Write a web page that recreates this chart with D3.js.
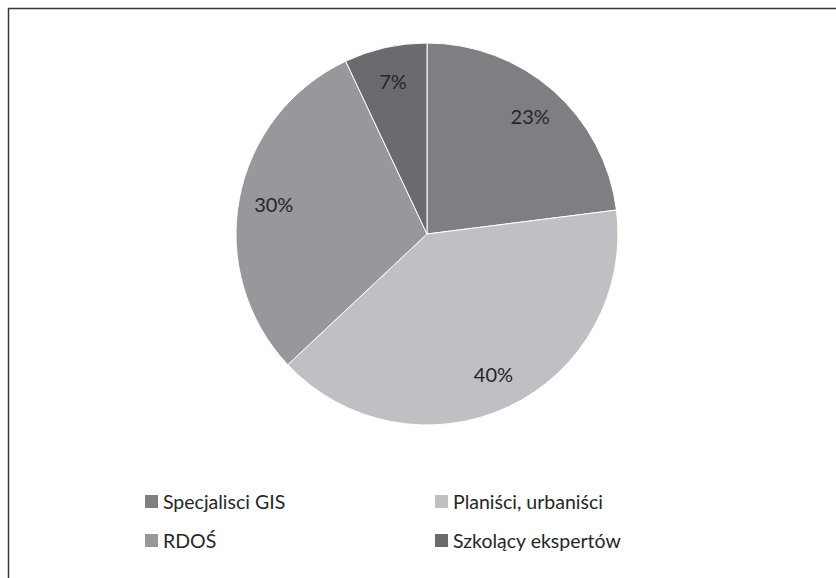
<!DOCTYPE html>
<html><head><meta charset="utf-8">
<script src="https://cdn.jsdelivr.net/npm/d3@7"></script>
<style>body{margin:0;background:#fff}svg{display:block}</style>
</head><body>
<script>
const categories = ["Specjalisci GIS", "Planiści, urbaniści", "RDOŚ", "Szkolący ekspertów"];
const values = [23, 40, 30, 7];
const labels = ["23%", "40%", "30%", "7%"];
const colors = ["#7e7f83", "#c0c0c4", "#98989c", "#6b6b6f"];

const W = 836, H = 578;
const svg = d3.select("body").append("svg").attr("width", W).attr("height", H);
const font = "Lato, 'Open Sans', sans-serif";

svg.append("rect").attr("x", 8.5).attr("y", 8.5).attr("width", W).attr("height", H)
  .attr("fill", "#fff").attr("stroke", "#3a3a3a").attr("stroke-width", 1.5);

const cx = 427, cy = 234, r = 191;
const pie = d3.pie().sort(null).value(d => d)(values);
const arc = d3.arc().innerRadius(0).outerRadius(r);
const labelArc = d3.arc().innerRadius(156).outerRadius(156);
const g = svg.append("g").attr("transform", `translate(${cx},${cy})`);
g.selectAll("path").data(pie).join("path")
  .attr("d", arc).attr("fill", (d, i) => colors[i])
  .attr("stroke", "#fff").attr("stroke-width", 1);
g.selectAll("text").data(pie).join("text")
  .attr("transform", d => `translate(${labelArc.centroid(d)})`)
  .attr("text-anchor", "middle").attr("dy", "0.35em")
  .attr("font-family", font).attr("font-size", 20).attr("fill", "#262626")
  .text((d, i) => labels[i]);

const legX = d3.scaleOrdinal().domain([0, 1]).range([145, 435]);
const legY = d3.scaleOrdinal().domain([0, 1]).range([502, 541]);
const leg = svg.append("g").selectAll("g").data(categories).join("g")
  .attr("transform", (d, i) => `translate(${legX(i % 2)},${legY(Math.floor(i / 2))})`);
leg.append("rect").attr("x", 0).attr("y", -7).attr("width", 13).attr("height", 13)
  .attr("fill", (d, i) => colors[i]);
leg.append("text").attr("x", 18).attr("y", 0).attr("dy", "0.35em")
  .attr("font-family", font).attr("font-size", 19.5).attr("fill", "#262626")
  .text(d => d);
</script>
</body></html>
